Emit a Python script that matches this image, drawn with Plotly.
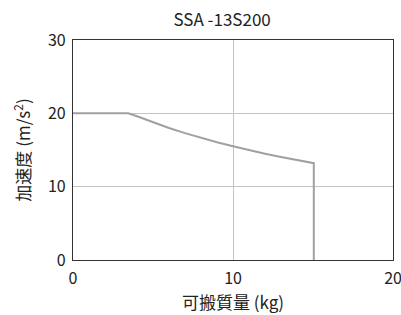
import plotly.graph_objects as go

payload_kg = [0, 3.46, 4, 5, 6, 7, 8, 9, 10, 11, 12, 13, 14, 15.05, 15.05]
accel = [20, 20, 19.6, 18.75, 18.0, 17.3, 16.65, 16.05, 15.5, 14.95, 14.5, 14.05, 13.6, 13.2, 0]
x_ticks = [0, 10, 20]
y_ticks = [0, 10, 20, 30]
title = "SSA -13S200"
x_title = "可搬質量 (kg)"
y_title = "加速度 (m/s<sup>2</sup>)"

font = "Noto Sans CJK JP"
fig = go.Figure()
fig.add_trace(go.Scatter(x=payload_kg, y=accel, mode="lines",
                         line=dict(color="#a0a0a0", width=2),
                         showlegend=False, hoverinfo="skip"))
fig.update_layout(
    width=401, height=315,
    margin=dict(l=73, r=8, t=40, b=55),
    paper_bgcolor="white", plot_bgcolor="white",
    font=dict(family=font, size=16, color="#222222"),
    title=dict(text=title, x=0.466, xref="paper", xanchor="center", y=0.937, yanchor="middle",
               font=dict(size=17, family=font, color="#222222")),
)
fig.update_xaxes(range=[0, 20], tickvals=x_ticks, showgrid=True, gridcolor="#c4c4c4", gridwidth=1,
                 showline=True, linecolor="#333333", linewidth=1.2, mirror=True, zeroline=False,
                 ticks="outside", ticklen=4, tickcolor="rgba(0,0,0,0)", automargin=False,
                 ticklabeloverflow="allow",
                 title=dict(text=x_title, font=dict(size=17), standoff=4),
                 tickfont=dict(size=16))
fig.update_yaxes(range=[0, 30], tickvals=y_ticks, showgrid=True, gridcolor="#c4c4c4", gridwidth=1,
                 showline=True, linecolor="#333333", linewidth=1.2, mirror=True, zeroline=False,
                 ticks="outside", ticklen=3, tickcolor="rgba(0,0,0,0)", automargin=False,
                 ticklabeloverflow="allow",
                 title=dict(text=y_title, font=dict(size=17), standoff=12),
                 tickfont=dict(size=16))
fig.write_html("out.html", config={"displayModeBar": False, "responsive": False},
               post_script="document.body.style.margin='0';document.body.style.overflow='hidden';")
